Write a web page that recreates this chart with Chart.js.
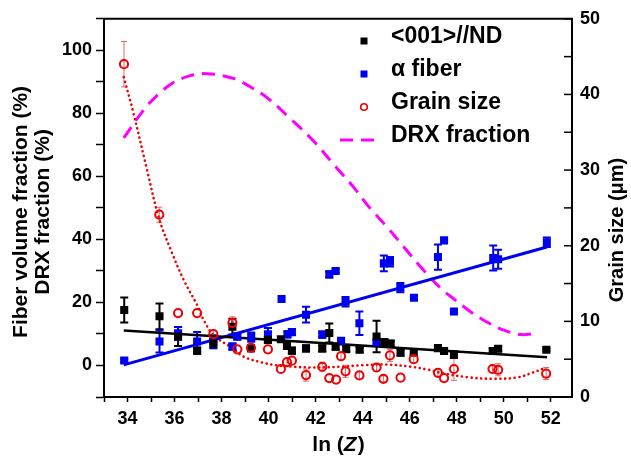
<!DOCTYPE html>
<html>
<head>
<meta charset="utf-8">
<script src="https://cdn.jsdelivr.net/npm/chart.js@4.4.1/dist/chart.umd.min.js"></script>
<style>
  body { margin: 0; background: #fff; overflow: hidden; }
  #wrap { width: 631px; height: 459px; position: relative; }
</style>
</head>
<body>
<div id="wrap"><canvas id="myChart"></canvas></div>
<script>
// <001>//ND fiber fraction (%), left axis
const ndX = [33.86, 35.36, 36.15, 36.96, 37.65, 38.46, 39.25, 39.97, 40.52, 40.78, 40.99, 41.59, 42.28, 42.58, 42.85, 43.30, 43.87, 44.59, 44.92, 45.19, 45.61, 46.17, 47.20, 47.46, 47.88, 49.53, 49.76, 51.81];
const ndY = [17.6, 15.6, 9.2, 4.7, 7.0, 12.3, 5.5, 8.1, 8.3, 6.2, 4.7, 5.4, 5.4, 10.3, 6.0, 5.2, 5.0, 9.2, 7.4, 6.9, 4.1, 4.2, 5.5, 4.6, 3.4, 4.6, 5.3, 5.0];
const ndErr = [4, 4.1, 3, 1, 1.5, 2.5, 1, 1, 0, 1, 1, 1, 1, 3, 1, 0.8, 0.8, 5, 1, 1, 1, 1, 0.8, 0.8, 1, 0.8, 0.8, 0.5];

// alpha fiber fraction (%), left axis
const alphaX = [33.86, 35.36, 36.15, 36.96, 37.65, 38.46, 38.67, 39.26, 39.97, 40.55, 40.80, 40.99, 41.59, 42.28, 42.58, 42.85, 43.08, 43.27, 43.86, 44.59, 44.90, 45.16, 45.60, 46.18, 47.20, 47.46, 47.88, 49.55, 49.76, 51.83];
const alphaY = [1.6, 7.6, 10.2, 7.6, 7.6, 6.0, 9.2, 9.0, 9.9, 21.1, 9.9, 10.6, 16.1, 9.8, 28.9, 30.0, 7.8, 20.2, 13.4, 7.4, 32.4, 32.9, 24.7, 21.5, 34.4, 39.7, 17.1, 34.1, 33.7, 39.1];
const alphaErr = [0.5, 3.5, 2, 3, 2, 1, 1, 1.5, 2, 0, 1, 1, 2.5, 1, 1, 0.5, 0, 1.5, 3.7, 0.5, 2.5, 1.5, 1.5, 0.5, 4, 0, 0, 4, 3, 1.5];

// grain size (um), right axis
const grainX = [33.85, 35.35, 36.15, 36.96, 37.65, 38.46, 38.67, 39.25, 39.97, 40.52, 40.78, 40.99, 41.59, 42.28, 42.58, 42.87, 43.08, 43.27, 43.86, 44.59, 44.88, 45.16, 45.61, 46.17, 47.20, 47.46, 47.88, 49.52, 49.76, 51.80];
const grainY = [44.0, 24.1, 11.1, 11.1, 8.3, 9.8, 6.3, 6.5, 6.3, 3.7, 4.6, 4.8, 2.9, 4.0, 2.5, 2.3, 5.4, 3.4, 2.85, 3.9, 2.4, 5.5, 2.55, 5.0, 3.2, 2.5, 3.7, 3.7, 3.6, 3.1];
const grainErr = [3, 1, 0, 0, 0.5, 0.8, 0, 0.5, 0, 0, 0.5, 0, 0.8, 0.6, 0, 0, 0.5, 0.8, 0.5, 0.5, 0.4, 0.8, 0, 0.5, 0.5, 0, 1.5, 0.5, 0.8, 0.8];

// fitted curves
const ndFitX = [33.84, 51.84];
const ndFitY = [11.1, 2.65];
const alphaFitX = [33.84, 51.83];
const alphaFitY = [0.2, 37.6];
const grainFitX = [33.84, 34.24, 34.81, 35.35, 35.9, 36.4, 36.97, 37.25, 37.68, 38.39, 38.96, 39.67, 40.3, 41.06, 42.0, 43.0, 44.0, 45.0, 46.05, 46.8, 47.46, 48.5, 49.6, 50.6, 51.2, 51.8];
const grainFitY = [42.3, 37.7, 30.3, 23.5, 19.0, 15.4, 12.1, 10.1, 8.1, 6.6, 5.3, 4.6, 4.2, 4.0, 3.9, 4.0, 4.2, 4.3, 4.0, 3.6, 3.1, 2.6, 2.4, 2.6, 3.2, 3.9];
const drxX = [33.84, 34.66, 35.3, 35.94, 36.6, 37.37, 38.5, 39.2, 39.93, 40.9, 41.9, 42.8, 43.62, 44.3, 45.04, 45.75, 46.46, 47.32, 47.88, 48.6, 49.3, 50.0, 50.73, 51.37];
const drxY = [72.2, 80.8, 86.0, 89.7, 91.8, 92.6, 91.1, 88.5, 85.0, 78.5, 71.3, 63.5, 56.5, 50.0, 43.9, 37.6, 31.3, 24.5, 21.1, 17.0, 13.7, 11.2, 9.8, 10.2];

const FONT = "'Liberation Sans', Arial, sans-serif";
const pts = (xs, ys) => xs.map((x, i) => ({ x: x, y: ys[i] }));

// vertical error bars with caps, drawn under the markers
const errorBars = {
    id: 'errorBars',
    beforeDatasetsDraw(chart) {
        const ctx = chart.ctx;
        const xs = chart.scales.x;
        chart.data.datasets.forEach(ds => {
            if (!ds.errors) return;
            const ys = chart.scales[ds.yAxisID];
            ctx.save();
            ctx.strokeStyle = ds.errorColor;
            ctx.lineWidth = ds.errorWidth;
            ds.data.forEach((p, j) => {
                const e = ds.errors[j];
                if (!e) return;
                const px = xs.getPixelForValue(p.x);
                const top = ys.getPixelForValue(p.y + e);
                const bot = ys.getPixelForValue(p.y - e);
                const c = ds.errorCap;
                ctx.beginPath();
                ctx.moveTo(px, top); ctx.lineTo(px, bot);
                ctx.moveTo(px - c, top); ctx.lineTo(px + c, top);
                ctx.moveTo(px - c, bot); ctx.lineTo(px + c, bot);
                ctx.stroke();
            });
            ctx.restore();
        });
    }
};

// top border, inward ticks on the right axis, axis titles and the legend
const decorations = {
    id: 'decorations',
    afterDraw(chart) {
        const ctx = chart.ctx;
        const a = chart.chartArea;
        ctx.save();
        ctx.strokeStyle = '#000';
        ctx.lineWidth = 2;
        ctx.beginPath();
        ctx.moveTo(a.left - 1, a.top);
        ctx.lineTo(a.right + 1, a.top);
        ctx.stroke();

        const r = chart.scales.y2;
        ctx.lineWidth = 1.5;
        r.ticks.forEach(t => {
            const py = r.getPixelForValue(t.value);
            ctx.beginPath();
            ctx.moveTo(a.right - 8, py);
            ctx.lineTo(a.right, py);
            ctx.stroke();
        });

        ctx.fillStyle = '#000';
        ctx.textAlign = 'center';
        ctx.textBaseline = 'middle';
        ctx.font = 'bold 21px ' + FONT;
        const midY = (a.top + a.bottom) / 2 + 4;
        ctx.save();
        ctx.translate(21, midY);
        ctx.rotate(-Math.PI / 2);
        ctx.fillText('Fiber volume fraction (%)', 0, 0);
        ctx.fillText('DRX fraction (%)', 0, 22);
        ctx.restore();

        ctx.save();
        ctx.translate(617, 230);
        ctx.rotate(-Math.PI / 2);
        ctx.font = 'bold 20px ' + FONT;
        ctx.fillText('Grain size (\u03bcm)', 0, 0);
        ctx.restore();

        // x title: ln (Z) with italic Z
        ctx.font = 'bold 21px ' + FONT;
        const p1 = 'ln (', p3 = ')';
        const w1 = ctx.measureText(p1).width;
        const w3 = ctx.measureText(p3).width;
        ctx.font = 'italic bold 21px ' + FONT;
        const w2 = ctx.measureText('Z').width;
        let x0 = (a.left + a.right) / 2 - (w1 + w2 + w3) / 2;
        const ty = 445;
        ctx.textAlign = 'left';
        ctx.font = 'bold 21px ' + FONT;
        ctx.fillText(p1, x0, ty);
        ctx.font = 'italic bold 21px ' + FONT;
        ctx.fillText('Z', x0 + w1, ty);
        ctx.font = 'bold 21px ' + FONT;
        ctx.fillText(p3, x0 + w1 + w2 + 1, ty);

        // legend
        const ds = chart.data.datasets;
        const rows = [0, 1, 2, 6];
        ctx.font = 'bold 23px ' + FONT;
        rows.forEach((di, k) => {
            const d = ds[di];
            const ly = 37 + k * 33;
            const mx = 364, my = ly + 4;
            if (d.showLine) {
                ctx.strokeStyle = d.borderColor;
                ctx.lineWidth = d.borderWidth;
                ctx.setLineDash(d.borderDash);
                ctx.beginPath();
                ctx.moveTo(340, my);
                ctx.lineTo(380, my);
                ctx.stroke();
                ctx.setLineDash([]);
            } else if (d.pointStyle === 'rect') {
                ctx.fillStyle = d.backgroundColor;
                ctx.fillRect(mx - 3.5, my - 3.5, 7, 7);
            } else {
                ctx.strokeStyle = d.borderColor;
                ctx.lineWidth = 1.6;
                ctx.beginPath();
                ctx.arc(mx, my, 3.3, 0, Math.PI * 2);
                ctx.stroke();
            }
            ctx.fillStyle = '#000';
            ctx.fillText(d.label, 391, ly);
        });
        ctx.restore();
    }
};

const ctx = document.getElementById('myChart').getContext('2d');
const chart = new Chart(ctx, {
    type: 'scatter',
    data: {
        datasets: [
            {
                label: '<001>//ND',
                data: pts(ndX, ndY),
                yAxisID: 'y',
                pointStyle: 'rect',
                pointRadius: 5.7,
                backgroundColor: '#000',
                borderColor: '#000',
                borderWidth: 0,
                errors: ndErr, errorColor: '#000', errorWidth: 2, errorCap: 4,
                order: 2
            },
            {
                label: '\u03b1 fiber',
                data: pts(alphaX, alphaY),
                yAxisID: 'y',
                pointStyle: 'rect',
                pointRadius: 5.7,
                backgroundColor: '#0000f0',
                borderColor: '#0000f0',
                borderWidth: 0,
                errors: alphaErr, errorColor: '#0000f0', errorWidth: 2, errorCap: 4,
                order: 2
            },
            {
                label: 'Grain size',
                data: pts(grainX, grainY),
                yAxisID: 'y2',
                pointStyle: 'circle',
                pointRadius: 4.1,
                backgroundColor: 'rgba(255,255,255,0)',
                borderColor: '#f00000',
                borderWidth: 2,
                errors: grainErr, errorColor: 'rgba(225,90,90,0.9)', errorWidth: 1, errorCap: 3,
                order: 1
            },
            {
                label: 'ND fit',
                data: pts(ndFitX, ndFitY),
                yAxisID: 'y',
                showLine: true,
                pointRadius: 0,
                borderColor: '#000',
                borderWidth: 2.5,
                order: 3
            },
            {
                label: 'alpha fit',
                data: pts(alphaFitX, alphaFitY),
                yAxisID: 'y',
                showLine: true,
                pointRadius: 0,
                borderColor: '#0000f0',
                borderWidth: 3,
                order: 3
            },
            {
                label: 'grain fit',
                data: pts(grainFitX, grainFitY),
                yAxisID: 'y2',
                showLine: true,
                pointRadius: 0,
                borderColor: '#f00000',
                borderWidth: 2.6,
                borderDash: [0.1, 4.7],
                borderCapStyle: 'round',
                tension: 0.35,
                order: 3
            },
            {
                label: 'DRX fraction',
                data: pts(drxX, drxY),
                yAxisID: 'y',
                showLine: true,
                pointRadius: 0,
                borderColor: '#ff00ff',
                borderWidth: 3,
                borderDash: [13, 8],
                tension: 0.35,
                order: 3
            }
        ]
    },
    options: {
        responsive: true,
        maintainAspectRatio: false,
        animation: false,
        layout: { padding: { top: 16, left: 0, right: 0, bottom: 0 } },
        plugins: {
            legend: { display: false },
            tooltip: { enabled: false }
        },
        scales: {
            x: {
                type: 'linear',
                min: 33,
                max: 52.9,
                ticks: {
                    stepSize: 1,
                    includeBounds: false,
                    autoSkip: false,
                    maxRotation: 0,
                    padding: 6,
                    color: '#000',
                    font: { family: FONT, size: 18, weight: 'bold' },
                    callback: v => (v % 2 === 0 ? v : '')
                },
                grid: { drawOnChartArea: false, tickLength: 5, tickWidth: 1.5, tickColor: '#000' },
                border: { color: '#000', width: 2 },
                afterFit(s) { s.height = 62; }
            },
            y: {
                position: 'left',
                min: -10,
                max: 110,
                ticks: {
                    stepSize: 10,
                    autoSkip: false,
                    padding: 4,
                    color: '#000',
                    font: { family: FONT, size: 18, weight: 'bold' },
                    callback: v => (v % 20 === 0 ? v : '')
                },
                grid: { drawOnChartArea: false, tickLength: 8, tickWidth: 1.5, tickColor: '#000' },
                border: { color: '#000', width: 2 },
                afterFit(s) { s.width = 104; }
            },
            y2: {
                position: 'right',
                min: 0,
                max: 50,
                ticks: {
                    stepSize: 5,
                    autoSkip: false,
                    padding: 8,
                    color: '#000',
                    font: { family: FONT, size: 18, weight: 'bold' },
                    callback: v => (v % 10 === 0 ? v : '')
                },
                grid: { display: false, drawTicks: false },
                border: { display: true, color: '#000', width: 2 },
                afterFit(s) { s.width = 59; }
            }
        }
    },
    plugins: [errorBars, decorations]
});
</script>
</body>
</html>
